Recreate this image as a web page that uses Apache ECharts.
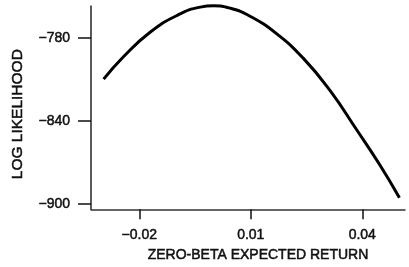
<!DOCTYPE html>
<html>
<head>
<meta charset="utf-8">
<script src="https://cdn.jsdelivr.net/npm/echarts@6/dist/echarts.min.js"></script>
<style>
  html, body { margin: 0; padding: 0; background: #fff; }
  #chart { width: 409px; height: 267px; }
</style>
</head>
<body>
<div id="chart"></div>
<script>
// curve
var returns = [-0.0296, -0.0242, -0.0171, -0.0099, -0.0036, 0.0, 0.0044, 0.0098, 0.0170, 0.0241, 0.0313, 0.0384, 0.0447, 0.0500];
var logLik = [-809.9, -793.5, -776.0, -763.9, -757.8, -756.9, -758.5, -764.4, -777.2, -794.7, -818.0, -846.1, -871.8, -895.6];
var xTicks = [-0.02, 0.01, 0.04];
var yTicks = [-900, -840, -780];

function fmt(v, digits) {
    var s = Math.abs(v).toFixed(digits);
    return (v < 0 ? '\u2212' : '') + s;
}

function init() {
    var myChart = echarts.init(document.getElementById('chart'));
    var txt = {
        fontFamily: 'Liberation Sans, Arial, sans-serif',
        fontSize: 14,
        color: '#111',
        textBorderColor: '#111',
        textBorderWidth: 0.5
    };

    myChart.setOption({
        animation: false,
        grid: { left: 91, right: 4, top: 6, height: 210 },
        xAxis: {
            type: 'value',
            min: -0.033,
            max: 0.0515,
            name: 'ZERO-BETA EXPECTED RETURN',
            nameLocation: 'middle',
            nameGap: 38,
            nameTextStyle: Object.assign({}, txt, { padding: [0, 0, 0, 20] }),
            axisLine: { onZero: false, lineStyle: { color: '#333', width: 1.5 } },
            axisTick: { customValues: xTicks, length: 10, lineStyle: { color: '#111', width: 1.5 } },
            axisLabel: Object.assign({
                customValues: xTicks,
                margin: 19,
                formatter: function (v) { return fmt(v, 2); }
            }, txt),
            splitLine: { show: false }
        },
        yAxis: {
            type: 'value',
            min: -904,
            max: -757,
            name: 'LOG LIKELIHOOD',
            nameLocation: 'middle',
            nameGap: 65,
            nameTextStyle: Object.assign({}, txt, { fontSize: 15.5, padding: [0, 13, 0, 0] }),
            axisLine: { show: true, onZero: false, lineStyle: { color: '#222', width: 1.5 } },
            axisTick: { show: true, customValues: yTicks, length: 13, lineStyle: { color: '#111', width: 1.5 } },
            axisLabel: Object.assign({
                customValues: yTicks,
                margin: 21,
                formatter: function (v) { return fmt(v, 0); }
            }, txt),
            splitLine: { show: false }
        },
        series: [
            {
                type: 'line',
                data: returns.map(function (x, i) { return [x, logLik[i]]; }),
                smooth: true,
                showSymbol: false,
                clip: false,
                lineStyle: { color: '#000', width: 3 }
            }
        ]
    });
}

document.addEventListener("DOMContentLoaded", function (event) {
    init();
});
</script>
</body>
</html>
